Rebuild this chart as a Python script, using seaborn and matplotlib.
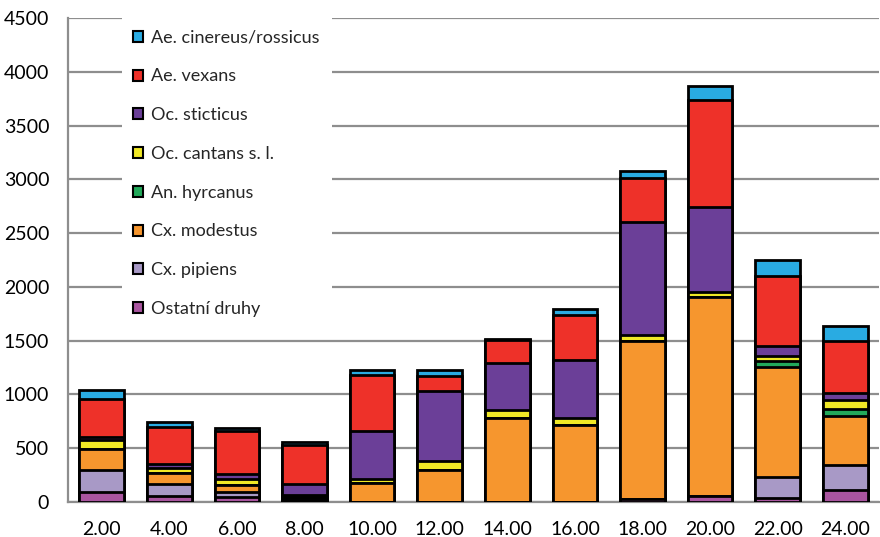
import matplotlib
matplotlib.use("Agg")
import matplotlib.pyplot as plt
from matplotlib.patches import Patch
from matplotlib.ticker import FixedLocator, MultipleLocator
import numpy as np
import pandas as pd
import seaborn as sns

# Sampling times (x axis categories)
dates = ["2.00", "4.00", "6.00", "8.00", "10.00", "12.00",
         "14.00", "16.00", "18.00", "20.00", "22.00", "24.00"]

# Mosquito counts per species, listed from the bottom of each stack upward
ostatni = [91, 60, 51, 20, 0, 0, 0, 0, 30, 54, 39, 107]
pipiens = [211, 103, 44, 15, 0, 0, 0, 0, 0, 0, 192, 235]
modestus = [192, 108, 65, 15, 178, 295, 782, 713, 1470, 1852, 1025, 461]
hyrcanus = [0, 0, 0, 5, 0, 0, 0, 0, 0, 0, 52, 63]
cantans = [80, 47, 58, 12, 37, 90, 71, 65, 49, 49, 46, 86]
sticticus = [31, 33, 40, 105, 446, 648, 440, 543, 1050, 790, 93, 62]
vexans = [353, 347, 406, 356, 520, 135, 216, 418, 418, 993, 650, 483]
cinereus = [80, 47, 28, 34, 47, 56, 8, 52, 62, 130, 152, 142]

species = ["Ostatní druhy", "Cx. pipiens", "Cx. modestus", "An. hyrcanus",
           "Oc. cantans s. l.", "Oc. sticticus", "Ae. vexans",
           "Ae. cinereus/rossicus"]
series = [ostatni, pipiens, modestus, hyrcanus, cantans, sticticus, vexans, cinereus]
colors = ["#a9559f", "#a899c6", "#f6962e", "#22a95a",
          "#f0e826", "#6b3f98", "#ee3129", "#29abe2"]

sns.set_style("white")
plt.rcParams["font.family"] = ["Lato", "DejaVu Sans"]

fig = plt.figure(figsize=(8.8, 5.37), dpi=100)
ax = fig.add_axes([68 / 880, 1 - 502 / 537, 1 - 68 / 880 - 0.001, (502 - 18) / 537])

counts = np.array(series, dtype=float)
cum = np.cumsum(counts, axis=0)

# Draw cumulative bars from the top layer down so each lower layer sits in front
for i in range(len(species) - 1, -1, -1):
    df = pd.DataFrame({"date": dates, "value": cum[i]})
    sns.barplot(data=df, x="date", y="value", order=dates, color=colors[i],
                saturation=1, edgecolor="black", linewidth=2.0, width=0.66,
                ax=ax, zorder=3)

grid_color = "#8e8e8e"
ax.set_ylim(0, 4500)
ax.set_xlim(-0.5, len(dates) - 0.5)
ax.yaxis.set_major_locator(MultipleLocator(500))
ax.yaxis.grid(True, color=grid_color, linewidth=1.6, zorder=0)
ax.xaxis.grid(False)
ax.set_axisbelow(True)

for side in ["top", "right"]:
    ax.spines[side].set_visible(False)
for side in ["left", "bottom"]:
    ax.spines[side].set_color(grid_color)
    ax.spines[side].set_linewidth(1.6)

ax.set_xlabel("")
ax.set_ylabel("")

# Category labels centred under bars, tick marks between categories
ax.tick_params(axis="x", which="major", length=0, pad=13.5, labelsize=14, colors="black")
ax.xaxis.set_minor_locator(FixedLocator(np.arange(-0.5, len(dates) + 0.5, 1.0)))
ax.tick_params(axis="x", which="minor", length=4.5, width=1.6, color=grid_color)
ax.tick_params(axis="y", which="major", length=4.5, width=1.6, color=grid_color,
               pad=9, labelsize=14, labelcolor="black")

handles = [Patch(facecolor=colors[i], edgecolor="black", linewidth=1.5)
           for i in range(len(species) - 1, -1, -1)]
labels = [species[i] for i in range(len(species) - 1, -1, -1)]
leg = ax.legend(handles, labels, loc="upper left",
                bbox_to_anchor=(0.066, 1.0), frameon=True, fancybox=False,
                facecolor="white", edgecolor="none", framealpha=1,
                fontsize=13, handlelength=0.55, handleheight=0.55,
                handletextpad=0.45, labelspacing=1.26, borderpad=0.65,
                borderaxespad=0.0)
leg.set_zorder(5)

fig.savefig("out.png", dpi=100)
